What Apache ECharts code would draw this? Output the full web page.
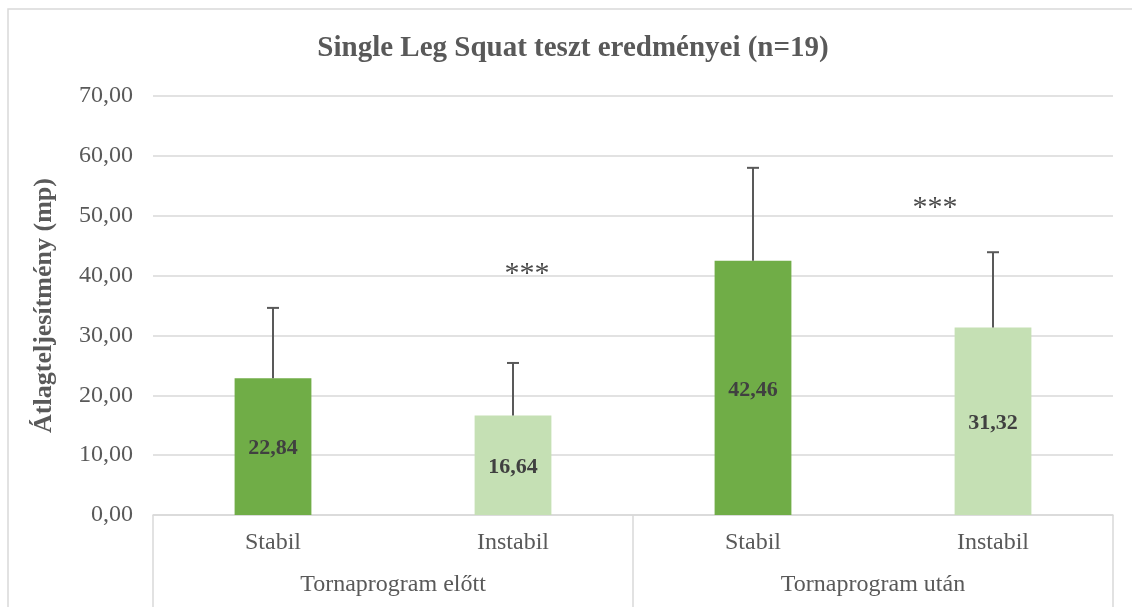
<!DOCTYPE html>
<html>
<head>
<meta charset="utf-8">
<title>Single Leg Squat teszt eredményei</title>
<script src="https://cdn.jsdelivr.net/npm/echarts@6/dist/echarts.min.js"></script>
<style>
  html, body { margin: 0; padding: 0; background: #fff; }
  #chart { width: 1132px; height: 607px; }
</style>
</head>
<body>
<div id="chart"></div>
<script>
// data
var groups = ['Tornaprogram előtt', 'Tornaprogram után'];
var categories = ['Stabil', 'Instabil', 'Stabil', 'Instabil'];
var means = [22.84, 16.64, 42.46, 31.32];
var errorTops = [34.6, 25.4, 58.0, 43.9];
var barColors = ['#70AD47', '#C5E0B4', '#70AD47', '#C5E0B4'];
// significance marks: category index, height
var starCats = [1, 3];
var starValues = [40.2, 51.2];
var yTicks = [0, 10, 20, 30, 40, 50, 60, 70];

var serif = "'Liberation Serif', 'Times New Roman', serif";

function huNum(v) {
  return v.toFixed(2).replace('.', ',');
}

var chart = echarts.init(document.getElementById('chart'));

var barData = means.map(function (v, i) {
  return { value: v, itemStyle: { color: barColors[i] } };
});

var errData = means.map(function (v, i) {
  return [i, v, errorTops[i]];
});

var starOffsets = [[14, 0], [-58, 0]];
var starData = starCats.map(function (c, i) {
  return { value: [c, starValues[i]], label: { offset: starOffsets[i] } };
});

var option = {
  animation: false,
  backgroundColor: '#fff',
  title: {
    text: 'Single Leg Squat teszt eredményei (n=19)',
    left: 573,
    textAlign: 'center',
    top: 34,
    padding: 0,
    textStyle: { fontFamily: serif, fontSize: 29, fontWeight: 'bold', color: '#595959' }
  },
  graphic: [{
    type: 'rect',
    shape: { x: 8, y: 9, width: 1300, height: 800 },
    style: { fill: 'none', stroke: '#d9d9d9', lineWidth: 1.5 },
    silent: true
  }],
  grid: { left: 153, right: 19, top: 96, bottom: 92 },
  xAxis: [{
    type: 'category',
    data: categories,
    axisLine: { lineStyle: { color: '#d9d9d9', width: 1.5 } },
    axisTick: { show: false },
    axisLabel: { fontFamily: serif, fontSize: 24, color: '#595959', margin: 16 }
  }, {
    type: 'category',
    data: groups,
    position: 'bottom',
    axisLine: { show: false },
    axisTick: { show: true, length: 95, interval: 0, lineStyle: { color: '#d9d9d9', width: 1.5 } },
    axisLabel: { fontFamily: serif, fontSize: 24, color: '#595959', margin: 58 }
  }],
  yAxis: {
    type: 'value',
    min: yTicks[0],
    max: yTicks[yTicks.length - 1],
    interval: 10,
    name: 'Átlagteljesítmény (mp)',
    nameLocation: 'middle',
    nameGap: 96,
    nameTextStyle: { fontFamily: serif, fontSize: 26, fontWeight: 'bold', color: '#595959' },
    axisLine: { show: false },
    axisTick: { show: false },
    axisLabel: {
      fontFamily: serif, fontSize: 24, color: '#595959', margin: 20,
      formatter: function (v) { return huNum(v); }
    },
    splitLine: { lineStyle: { color: '#d9d9d9', width: 1.5 } }
  },
  series: [{
    type: 'bar',
    xAxisIndex: 0,
    data: barData,
    barWidth: '32%',
    label: {
      show: true,
      position: 'inside',
      offset: [0, 2],
      fontFamily: serif,
      fontSize: 22,
      fontWeight: 'bold',
      color: '#404040',
      formatter: function (p) { return huNum(p.value); }
    },
    z: 2
  }, {
    type: 'custom',
    xAxisIndex: 0,
    data: errData,
    z: 3,
    renderItem: function (params, api) {
      var x = api.value(0);
      var top = api.coord([x, api.value(2)]);
      var base = api.coord([x, api.value(1)]);
      var half = 6;
      var st = { stroke: '#595959', lineWidth: 2 };
      return {
        type: 'group',
        children: [
          { type: 'line', shape: { x1: top[0], y1: top[1], x2: base[0], y2: base[1] }, style: st },
          { type: 'line', shape: { x1: top[0] - half, y1: top[1], x2: top[0] + half, y2: top[1] }, style: st }
        ]
      };
    }
  }, {
    type: 'scatter',
    xAxisIndex: 0,
    data: starData,
    symbolSize: 0,
    label: {
      show: true,
      position: 'inside',
      formatter: '***',
      fontFamily: serif,
      fontSize: 30,
      color: '#1a1a1a'
    },
    z: 4
  }]
};

chart.setOption(option);
</script>
</body>
</html>
